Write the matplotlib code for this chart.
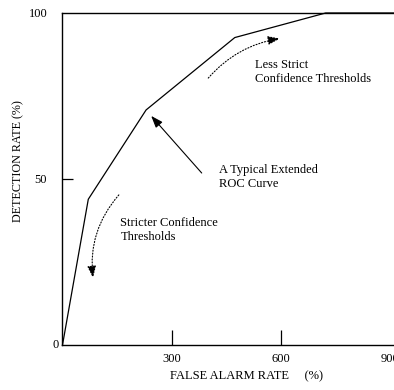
import matplotlib
matplotlib.use("Agg")
import matplotlib.pyplot as plt

# extended ROC curve
false_alarm = [0, 71, 230, 474, 724, 912]
detection = [0, 43.9, 70.8, 92.6, 100, 100]

x_ticks = [300, 600, 900]
y_ticks = [50, 100]

plt.rcParams['font.family'] = ['Liberation Serif', 'DejaVu Serif']
plt.rcParams['font.size'] = 9

fig = plt.figure(figsize=(3.94, 3.90), dpi=100)
ax = fig.add_axes([0.1586, 0.1154, 0.8414, 0.8513])

ax.plot(false_alarm, detection, color='black', lw=0.9, clip_on=False)

ax.set_xlim(0, 912)
ax.set_ylim(0, 100)
ax.spines['right'].set_visible(False)
for s in ['left', 'top', 'bottom']:
    ax.spines[s].set_linewidth(1.0)

ax.set_xticks(x_ticks)
ax.set_xticklabels([str(v) for v in x_ticks])
ax.set_yticks(y_ticks)
ax.set_yticklabels([str(v) for v in y_ticks])
ax.tick_params(axis='x', direction='in', length=11, width=0.9, pad=6)
ax.tick_params(axis='y', direction='in', length=8, width=0.9, pad=11)
ax.xaxis.get_major_ticks()[2].tick1line.set_visible(False)
ax.yaxis.get_major_ticks()[1].tick1line.set_visible(False)

ax.text(-0.01, 0, '0', transform=ax.transAxes, ha='right', va='center')

ax.set_xlabel('FALSE ALARM RATE     (%)', labelpad=6)
ax.xaxis.set_label_coords(0.555, -0.075)
ax.set_ylabel('DETECTION RATE (%)', fontsize=8.7)
ax.yaxis.set_label_coords(-0.115, 0.554)

# annotations
head = '-|>,head_length=0.6,head_width=0.22'
ax.annotate('', xy=(244, 69), xytext=(383, 51.8),
            arrowprops=dict(arrowstyle=head, color='black', lw=0.8,
                            mutation_scale=12, shrinkA=0, shrinkB=0))
ax.text(430, 54.5, 'A Typical Extended\nROC Curve', va='top', ha='left')

ax.annotate('', xy=(598, 92.3), xytext=(401, 80.4),
            arrowprops=dict(arrowstyle=head, color='black', lw=0.8, ls=':',
                            mutation_scale=12, shrinkA=0, shrinkB=0,
                            connectionstyle='arc3,rad=-0.18'))
ax.text(529, 86, 'Less Strict\nConfidence Thresholds', va='top', ha='left')

ax.annotate('', xy=(84, 20.2), xytext=(155, 45.2),
            arrowprops=dict(arrowstyle=head, color='black', lw=0.8, ls=':',
                            mutation_scale=12, shrinkA=0, shrinkB=0,
                            connectionstyle='arc3,rad=0.22'))
ax.text(159, 38.5, 'Stricter Confidence\nThresholds', va='top', ha='left')

fig.savefig('out.png', dpi=100)
